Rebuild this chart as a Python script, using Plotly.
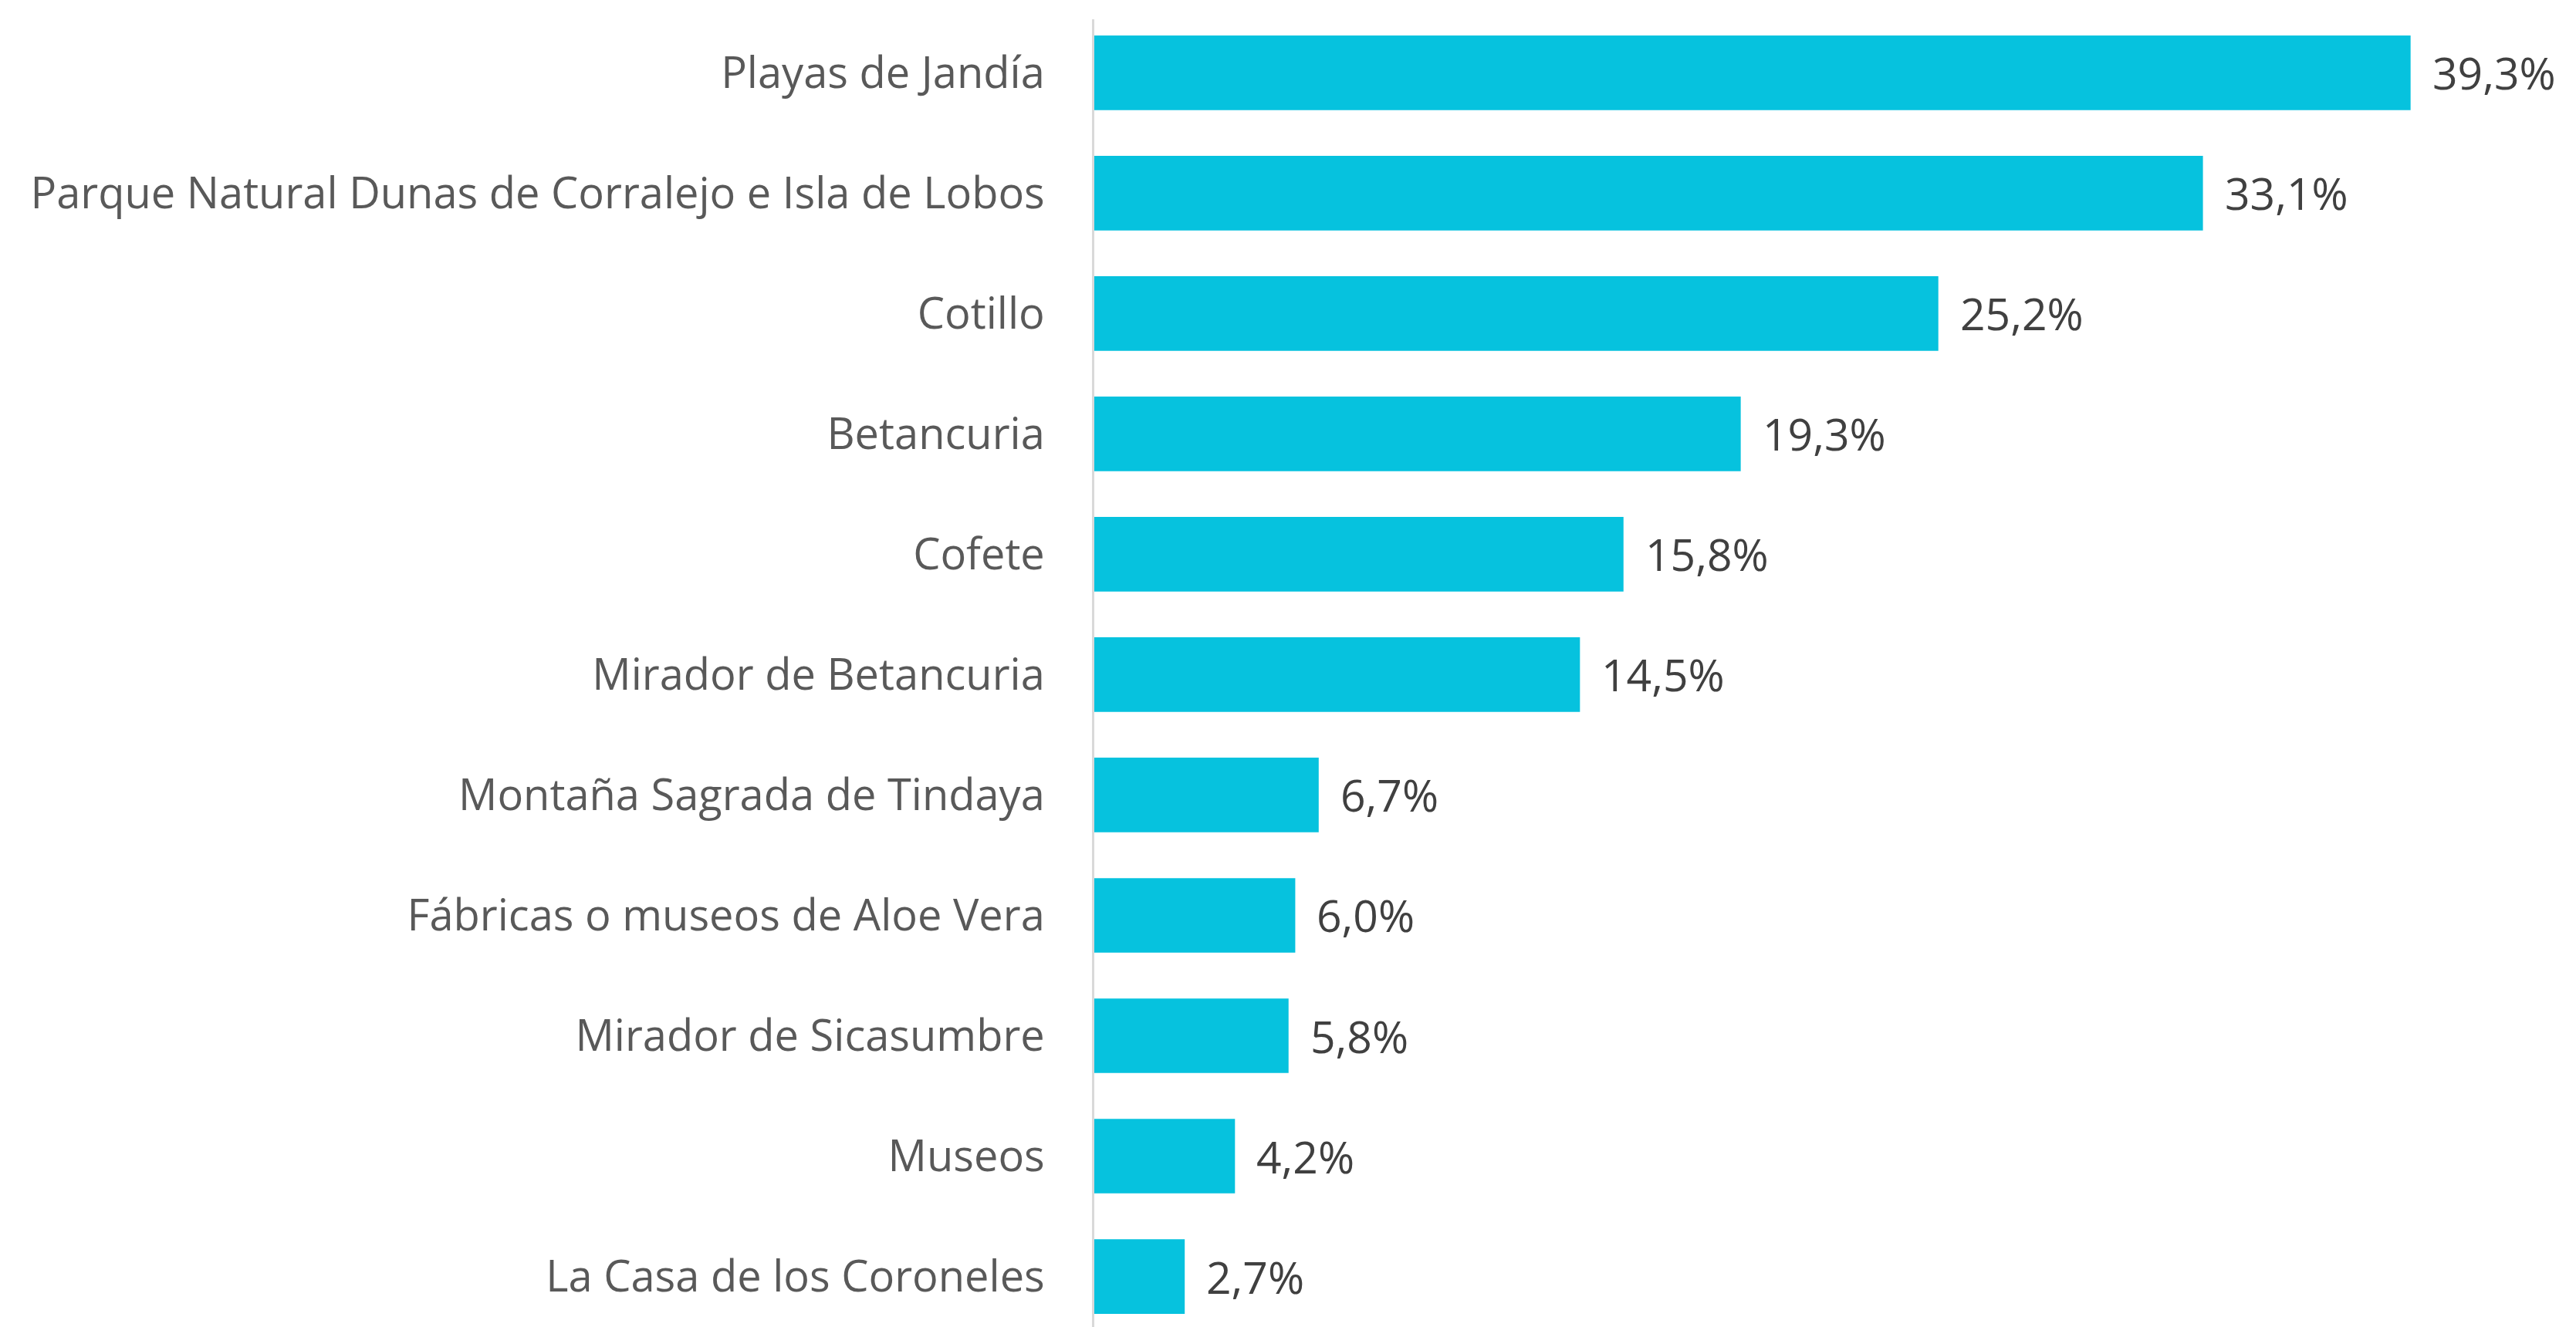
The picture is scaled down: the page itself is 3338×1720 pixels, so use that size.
import plotly.graph_objects as go

# lugares visitados (de arriba a abajo)
lugares = [
    "Playas de Jandía",
    "Parque Natural Dunas de Corralejo e Isla de Lobos",
    "Cotillo",
    "Betancuria",
    "Cofete",
    "Mirador de Betancuria",
    "Montaña Sagrada de Tindaya",
    "Fábricas o museos de Aloe Vera",
    "Mirador de Sicasumbre",
    "Museos",
    "La Casa de los Coroneles",
]
porcentajes = [39.3, 33.1, 25.2, 19.3, 15.8, 14.5, 6.7, 6.0, 5.8, 4.2, 2.7]
etiquetas = [f"{v:.1f}%".replace(".", ",") for v in porcentajes]

BAR_COLOR = "#06C2DE"
FONT = "Open Sans"

fig = go.Figure()
fig.add_trace(
    go.Bar(
        x=porcentajes,
        y=lugares,
        orientation="h",
        marker=dict(color=BAR_COLOR, line=dict(width=0)),
        width=0.62,
        hoverinfo="skip",
    )
)

# etiquetas de valor a la derecha de cada barra
for lugar, v, t in zip(lugares, porcentajes, etiquetas):
    fig.add_annotation(
        x=v, y=lugar, text=t,
        xanchor="left", yanchor="middle",
        xshift=26, showarrow=False,
        font=dict(family=FONT, size=57, color="#404040"),
    )

fig.update_layout(
    width=3338,
    height=1720,
    margin=dict(l=1410, r=14, t=17, b=0, pad=0),
    paper_bgcolor="white",
    plot_bgcolor="white",
    showlegend=False,
)
fig.update_xaxes(
    range=[0, 44.1],
    visible=False,
    showgrid=False,
    zeroline=False,
)
fig.update_yaxes(
    type="category",
    range=[10.471, -0.445],
    showgrid=False,
    zeroline=False,
    showline=True,
    linecolor="#d9d9d9",
    linewidth=3,
    ticks="",
    ticklabelstandoff=50,
    tickfont=dict(family=FONT, size=56, color="#595959"),
)

fig.write_html("out.html")
